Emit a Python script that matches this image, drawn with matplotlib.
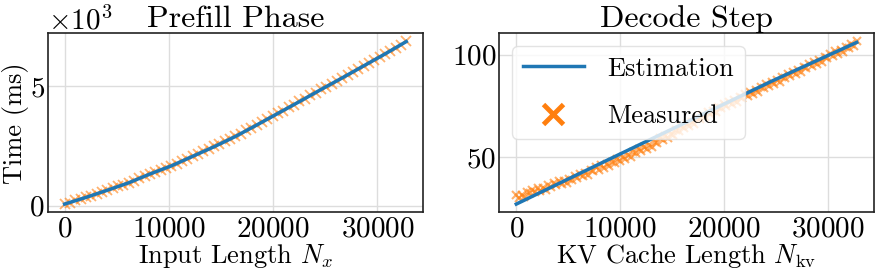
import numpy as np
import matplotlib
matplotlib.use("Agg")
import matplotlib.pyplot as plt

plt.rcParams['font.family'] = ['cmr10', 'DejaVu Serif']
plt.rcParams['mathtext.fontset'] = 'cm'
plt.rcParams['axes.formatter.use_mathtext'] = True
plt.rcParams['axes.unicode_minus'] = False

# ---- data ----
# prefill: time in ms vs input length
pf_est_x = [0, 2048, 4096, 6144, 8192, 10240, 12288, 14336, 16384,
            18432, 20480, 22528, 24576, 26624, 28672, 30720, 32768]
pf_est_y = [60, 340, 640, 950, 1320, 1660, 2060, 2460, 2890,
            3370, 3860, 4350, 4850, 5340, 5840, 6340, 6860]

pf_meas_x = list(range(0, 32769, 512))
pf_meas_y = [70, 125, 210, 265, 345, 410, 495, 560,
             650, 745, 820, 865, 955, 1035, 1140, 1215,
             1325, 1400, 1495, 1570, 1665, 1755, 1870, 1955,
             2065, 2150, 2270, 2350, 2470, 2560, 2685, 2775,
             2895, 3000, 3140, 3240, 3380, 3480, 3625, 3730,
             3870, 3975, 4115, 4220, 4360, 4465, 4610, 4715,
             4860, 4965, 5105, 5210, 5350, 5455, 5600, 5705,
             5850, 5955, 6100, 6205, 6350, 6460, 6610, 6720, 6870]

# decode step: time in ms vs kv cache length
dc_est_x = [0, 8192, 16384, 24576, 32768]
dc_est_y = [26.9, 47.0, 67.0, 87.0, 106.0]

dc_meas_x = list(range(0, 32769, 256))
dc_meas_y = [31.3, 29.9, 31.5, 30.5, 32.7, 32.1, 33.9, 32.6,
             34.7, 33.3, 34.9, 33.8, 36.0, 35.5, 37.3, 36.0,
             38.0, 36.6, 38.3, 37.2, 39.4, 38.9, 40.8, 39.6,
             41.8, 40.5, 42.2, 41.2, 43.5, 43.0, 45.0, 43.8,
             45.9, 44.6, 46.3, 45.3, 47.6, 47.2, 49.1, 47.9,
             50.0, 48.8, 50.7, 49.8, 52.2, 51.8, 53.9, 52.8,
             55.0, 53.8, 55.7, 54.8, 57.2, 56.9, 59.1, 58.1,
             60.4, 59.3, 61.3, 60.5, 63.0, 62.7, 64.9, 63.9,
             66.2, 65.1, 67.1, 66.3, 68.8, 68.5, 70.7, 69.7,
             72.0, 70.8, 72.6, 71.8, 74.2, 73.8, 75.8, 74.7,
             76.9, 75.7, 77.6, 76.7, 79.1, 78.7, 80.7, 79.6,
             81.9, 80.7, 82.5, 81.6, 84.0, 83.6, 85.7, 84.6,
             86.8, 85.6, 87.4, 86.5, 89.0, 88.6, 90.6, 89.5,
             91.7, 90.5, 92.3, 91.5, 93.9, 93.5, 95.5, 94.4,
             96.6, 95.5, 97.3, 96.4, 98.8, 98.4, 100.4, 99.4,
             101.6, 100.4, 102.2, 101.3, 103.7, 103.4, 105.4, 104.3,
             106.5]

est_color = 'C0'
meas_color = 'C1'

fig = plt.figure(figsize=(8.77, 2.70), dpi=100)
ax1 = fig.add_axes([0.0542, 0.2140, 0.4285, 0.6630])
ax2 = fig.add_axes([0.5693, 0.2140, 0.4270, 0.6630])

for ax in (ax1, ax2):
    ax.set_axisbelow(True)
    ax.grid(True, color='#dddddd', linewidth=1.0)
    ax.tick_params(length=0, labelsize=21)
    ax.tick_params(axis='x', pad=3)
    ax.tick_params(axis='y', pad=2)
    for s in ax.spines.values():
        s.set_color('#222222')
        s.set_linewidth(1.2)

# prefill
ax1.plot(pf_meas_x, pf_meas_y, 'x', color=meas_color, markersize=7,
         mew=1.3, alpha=0.6, zorder=2)
ax1.plot(pf_est_x, pf_est_y, '-', color=est_color, linewidth=2.5, zorder=3)
ax1.set_title('Prefill Phase', fontsize=23, pad=4)
ax1.set_xlabel(r'Input Length $N_x$', fontsize=19)
ax1.xaxis.set_label_coords(0.5, -0.165)
ax1.set_ylabel('Time (ms)', fontsize=19)
ax1.yaxis.set_label_coords(-0.05, 0.5)
ax1.ticklabel_format(axis='y', style='sci', scilimits=(3, 3))
ax1.yaxis.get_offset_text().set_fontsize(21)
ax1.set_yticks([0, 5000])
ax1.set_xticks([0, 10000, 20000, 30000])

# decode
ax2.plot(dc_meas_x, dc_meas_y, 'x', color=meas_color, markersize=6,
         mew=1.5, alpha=0.6, zorder=2, label='Measured')
ax2.plot(dc_est_x, dc_est_y, '-', color=est_color, linewidth=2.5, zorder=3,
         label='Estimation')
ax2.set_title('Decode Step', fontsize=23, pad=4)
ax2.set_xlabel(r'KV Cache Length $N_{\rm kv}$', fontsize=19)
ax2.xaxis.set_label_coords(0.5, -0.165)
ax2.set_yticks([50, 100])
ax2.set_xticks([0, 10000, 20000, 30000])

h, l = ax2.get_legend_handles_labels()
leg = ax2.legend(h[::-1], l[::-1], loc='upper left', fontsize=19,
                 markerscale=2.5, framealpha=0.8, edgecolor='#dddddd',
                 borderaxespad=0.5, handlelength=2.3, handletextpad=0.9,
                 labelspacing=0.9)
for lh in leg.legend_handles:
    lh.set_alpha(1.0)
leg.legend_handles[1].set_markeredgewidth(3.5)

fig.savefig('out.png', dpi=100)
